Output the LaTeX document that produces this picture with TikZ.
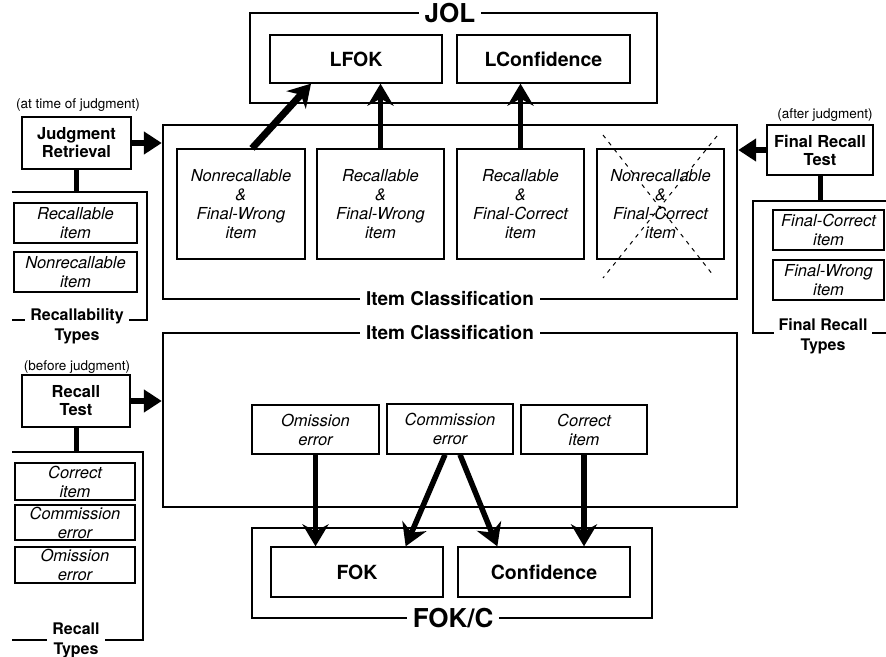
\documentclass[tikz,border=0pt]{standalone}
\usepackage{fontspec}
\setmainfont{TeX Gyre Heros}
\usetikzlibrary{arrows.meta}

\begin{document}
\begin{tikzpicture}[x=1pt,y=-1pt,
  outer/.style={draw, line width=2.4pt, inner sep=0pt},
  inner/.style={draw, line width=1.3pt, inner sep=0pt, align=center},
  itemtxt/.style={inner, font=\fontsize{16.5}{19}\selectfont\itshape},
  bigtxt/.style={inner, font=\fontsize{19.5}{22}\selectfont\bfseries},
  testbox/.style={draw, line width=2.6pt, inner sep=0pt, align=center,
    font=\fontsize{16.5}{18}\selectfont\bfseries},
  title/.style={fill=white, inner xsep=6pt, inner ysep=1pt,
    font=\fontsize{26}{28}\selectfont\bfseries},
  label/.style={fill=white, inner xsep=6pt, inner ysep=1pt,
    font=\fontsize{19}{21}\selectfont\bfseries},
  brlabel/.style={fill=white, inner xsep=5pt, inner ysep=0pt, align=center,
    font=\fontsize{16}{20}\selectfont\bfseries},
  note/.style={font=\fontsize{13.5}{15}\selectfont},
  bracket/.style={line width=2.4pt},
  stem/.style={line width=5pt},
  sidearrow/.style={line width=5.5pt, -{Triangle[length=18pt 0 0,width=22pt 0 0]}},
  uparrow/.style={line width=5.5pt, -{Stealth[length=22pt 0 0,width=26pt 0 0,inset=7pt 0]}},
  crossout/.style={line width=1pt, dash pattern=on 4pt off 5pt}
]
\useasboundingbox (0,0) rectangle (886,656);

% ---------- JOL ----------
\node[outer, minimum width=407pt, minimum height=90pt] (jol) at (453.5,58) {};
\node[title] (joltitle) at (450,13) {JOL};
\node[bigtxt, minimum width=172pt, minimum height=48pt] (lfok) at (356,59) {LFOK};
\node[bigtxt, minimum width=173pt, minimum height=48pt] (lconf) at (543.5,59) {LConfidence};

% ---------- upper item classification ----------
\node[outer, minimum width=574pt, minimum height=174pt] (upic) at (450,212) {};
\node[label] (upiclabel) at (450,299) {Item Classification};
\node[itemtxt, minimum width=128pt, minimum height=110pt] (i1) at (241,204)
  {Nonrecallable\\\&\\Final-Wrong\\item};
\node[itemtxt, minimum width=127pt, minimum height=110pt] (i2) at (380.5,204)
  {Recallable\\\&\\Final-Wrong\\item};
\node[itemtxt, minimum width=127pt, minimum height=110pt] (i3) at (520.5,204)
  {Recallable\\\&\\Final-Correct\\item};
\node[itemtxt, minimum width=127pt, minimum height=110pt] (i4) at (660.5,204)
  {Nonrecallable\\\&\\Final-Correct\\item};
\draw[crossout] (603,135) -- (713,275);
\draw[crossout] (717,136) -- (603,278);

\draw[uparrow, line width=7pt] ([xshift=11pt]i1.north) -- ([xshift=-45pt]lfok.south);
\draw[uparrow] (i2.north) -- (i2.north |- lfok.south);
\draw[uparrow] (i3.north) -- (i3.north |- lconf.south);

% ---------- lower item classification ----------
\node[outer, minimum width=574pt, minimum height=174pt] (loic) at (450,420) {};
\node[label] (loiclabel) at (450,333) {Item Classification};
\node[itemtxt, minimum width=127pt, minimum height=49pt] (om) at (315.5,429.5) {Omission\\error};
\node[itemtxt, minimum width=126pt, minimum height=50pt] (com) at (450,429) {Commission\\error};
\node[itemtxt, minimum width=126pt, minimum height=49pt] (cor) at (584,429.5) {Correct\\item};

% ---------- FOK/C ----------
\node[outer, minimum width=400pt, minimum height=90pt] (fokc) at (452,573) {};
\node[title] (fokctitle) at (453,618) {FOK/C};
\node[bigtxt, minimum width=172pt, minimum height=50pt] (fok) at (357,572) {FOK};
\node[bigtxt, minimum width=172pt, minimum height=50pt] (conf) at (544,572) {Confidence};

\draw[uparrow] (om.south) -- (om.south |- fok.north);
\draw[uparrow] ([xshift=-5pt]com.south) -- ([xshift=-38pt]fok.north east);
\draw[uparrow] ([xshift=10pt]com.south) -- ([xshift=40pt]conf.north west);
\draw[uparrow] (cor.south) -- (cor.south |- conf.north);

% ---------- judgment retrieval panel ----------
\node[note] (jrnote) at (78,105) {(at time of judgment)};
\node[testbox, minimum width=109pt, minimum height=52pt] (jr) at (76.5,143) {Judgment\\Retrieval};
\draw[sidearrow] (jr.east) -- (jr.east -| upic.west);
\coordinate (rtl) at (12,192);
\coordinate (rtr) at (147,192);
\coordinate (rbr) at (147,320);
\coordinate (rbl) at (12,320);
\draw[stem] (jr.south) -- (jr.south |- rtl);
\draw[bracket] (rtl) -- (rtr) -- (rbr) -- (rbl);
\node[itemtxt, minimum width=123pt, minimum height=40pt] (recit) at (75.5,223) {Recallable\\item};
\node[itemtxt, minimum width=123pt, minimum height=40pt] (nrecit) at (75.5,272) {Nonrecallable\\item};
\node[brlabel] (rtypes) at (77,326) {Recallability\\Types};

% ---------- recall test panel ----------
\node[note] (rtnote) at (77,367) {(before judgment)};
\node[testbox, minimum width=108pt, minimum height=52pt] (rt) at (76,401) {Recall\\Test};
\draw[sidearrow] (rt.east) -- (rt.east -| loic.west);
\coordinate (ttl) at (12,452);
\coordinate (ttr) at (143,452);
\coordinate (tbr) at (143,640);
\coordinate (tbl) at (12,640);
\draw[stem] (rt.south) -- (rt.south |- ttl);
\draw[bracket] (ttl) -- (ttr) -- (tbr) -- (tbl);
\node[itemtxt, minimum width=120pt, minimum height=37pt] (corit) at (75,481.5) {Correct\\item};
\node[itemtxt, minimum width=120pt, minimum height=35pt] (comit) at (75,522.5) {Commission\\error};
\node[itemtxt, minimum width=120pt, minimum height=36pt] (omit) at (75,565) {Omission\\error};
\node[brlabel] (rctypes) at (76,640) {Recall\\Types};

% ---------- final recall test panel ----------
\node[note] (frnote) at (825,115) {(after judgment)};
\node[testbox, minimum width=106pt, minimum height=50pt] (frt) at (820,150) {Final Recall\\Test};
\draw[sidearrow] (frt.west) -- (frt.west -| upic.east);
\coordinate (ftr) at (886,201);
\coordinate (ftl) at (753,201);
\coordinate (fbl) at (753,333);
\coordinate (fbr) at (886,333);
\draw[stem] (frt.south) -- (frt.south |- ftl);
\draw[bracket] (ftr) -- (ftl) -- (fbl) -- (fbr);
\node[itemtxt, minimum width=111pt, minimum height=40pt] (fcit) at (828.5,230) {Final-Correct\\item};
\node[itemtxt, minimum width=111pt, minimum height=40pt] (fwit) at (828.5,280) {Final-Wrong\\item};
\node[brlabel] (frtypes) at (823,336) {Final Recall\\Types};
\end{tikzpicture}
\end{document}
